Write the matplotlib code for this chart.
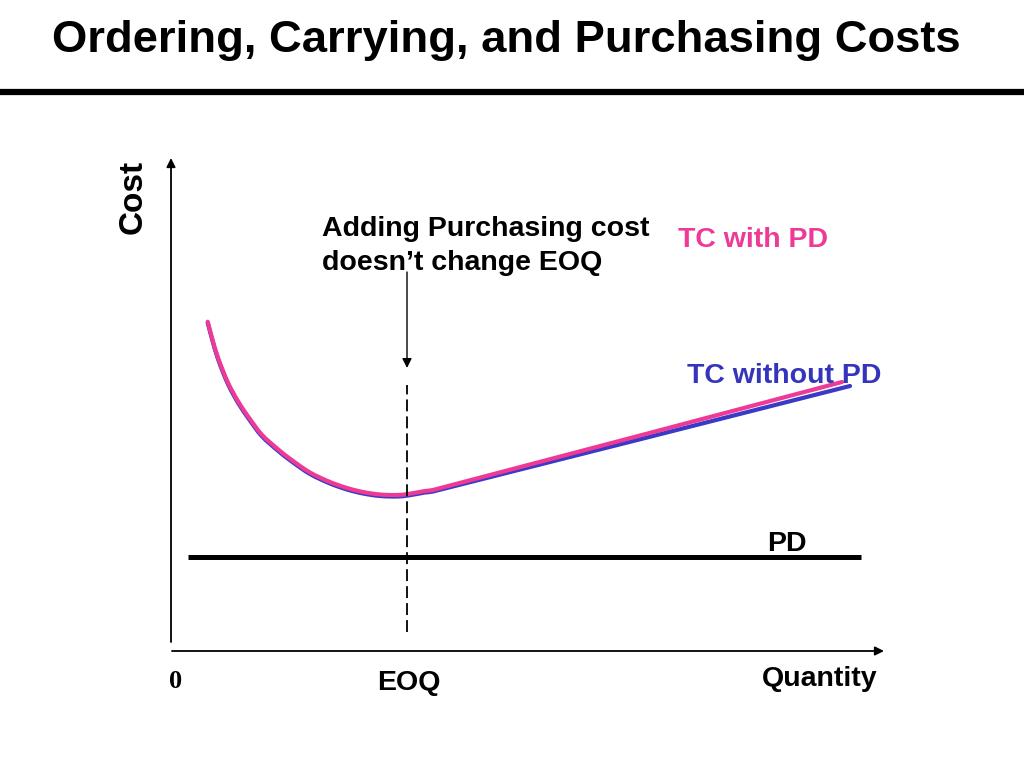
import matplotlib
matplotlib.use("Agg")
import numpy as np
import matplotlib.pyplot as plt
from matplotlib.lines import Line2D
from matplotlib.path import Path
from matplotlib.patches import PathPatch

# ---- data (arbitrary units) ----
quantity_pd = [36.7, 40.7, 47.3, 57.3, 67.3, 77.3, 90.7, 107.3, 120.7, 139, 159, 176, 192, 209, 226, 237, 254, 262, 671]
tc_with_pd = [329.3, 314.3, 292.5, 267.7, 249.3, 234.3, 216.5, 201.5, 191, 178.5, 169, 163, 159, 156.5, 156, 157, 160, 161, 269]

quantity_nopd = [36.7, 40.7, 47.3, 57.3, 67.3, 77.3, 90.7, 107.3, 120.7, 139, 159, 176, 192, 209, 226, 237, 254, 262, 679]
tc_without_pd = [328.3, 313.1, 291.1, 266.2, 247.8, 232.8, 215, 200, 189.5, 177, 167.5, 161.5, 157.5, 155, 154.5, 155.5, 158.5, 159.5, 265]

pd_quantity = [17, 690]
pd_cost = [94, 94]

eoq = 236
eoq_line_cost = [19, 266]

PINK = "#EE3A96"
BLUE = "#3A3AC6"
TEXT_BLUE = "#3434BC"

W, H = 1024, 768
fig = plt.figure(figsize=(W / 100, H / 100), dpi=100)
FONT = ["Liberation Sans", "DejaVu Sans"]


def fx(x):
    return x / W


def fy(y):
    return 1 - y / H


def smooth_path(xs, ys):
    """Smooth Bezier path passing through the given points."""
    p = np.column_stack([xs, ys]).astype(float)
    n = len(p)
    tang = np.zeros_like(p)
    for i in range(n):
        a = p[max(i - 1, 0)]
        b = p[min(i + 1, n - 1)]
        d = b - a
        tang[i] = d / np.hypot(*d)
    verts = [p[0]]
    codes = [Path.MOVETO]
    for i in range(n - 1):
        L = np.hypot(*(p[i + 1] - p[i]))
        verts += [p[i] + tang[i] * L / 3, p[i + 1] - tang[i + 1] * L / 3, p[i + 1]]
        codes += [Path.CURVE4] * 3
    return Path(verts, codes)


# title and rule
fig.text(fx(52), fy(52), "Ordering, Carrying, and Purchasing Costs", fontsize=32.7,
         fontweight="bold", family=FONT, ha="left", va="baseline")
fig.add_artist(Line2D([0, 1], [fy(92), fy(92)], color="black", lw=4.5,
                      transform=fig.transFigure))

# plotting area (origin at pixel 171, 651); 1 data unit = 1 pixel
ax = fig.add_axes([fx(171), fy(651), (884 - 171) / W, (651 - 158) / H])
ax.set_xlim(0, 713)
ax.set_ylim(0, 493)
ax.axis("off")

# axes with arrows
ax.annotate("", xy=(713, 0), xytext=(1, 0),
            arrowprops=dict(arrowstyle="-|>", lw=1.3, color="black",
                            mutation_scale=13, shrinkA=0, shrinkB=0),
            annotation_clip=False)
ax.annotate("", xy=(0, 493), xytext=(0, 9),
            arrowprops=dict(arrowstyle="-|>", lw=1.3, color="black",
                            mutation_scale=13, shrinkA=0, shrinkB=0),
            annotation_clip=False)

# curves
ax.add_patch(PathPatch(smooth_path(quantity_nopd, tc_without_pd), facecolor="none",
                       edgecolor=BLUE, lw=3.0, capstyle="round", joinstyle="round",
                       clip_on=False))
ax.add_patch(PathPatch(smooth_path(quantity_pd, tc_with_pd), facecolor="none",
                       edgecolor=PINK, lw=3.0, capstyle="round", joinstyle="round",
                       clip_on=False))

# PD line
ax.plot(pd_quantity, pd_cost, color="black", lw=3.6, solid_capstyle="butt")

# EOQ dashed line
ax.plot([eoq, eoq], eoq_line_cost, color="black", lw=1.3, ls=(0, (6.6, 2.8)))

# annotation arrow
ax.annotate("", xy=(eoq, 283), xytext=(eoq, 379),
            arrowprops=dict(arrowstyle="-|>", lw=1.0, color="black",
                            mutation_scale=14, shrinkA=0, shrinkB=0))

# texts
fs = 20.5
fig.text(fx(322), fy(236), "Adding Purchasing cost", fontsize=fs, fontweight="bold",
         family=FONT, ha="left", va="baseline")
fig.text(fx(322), fy(270), "doesn\u2019t change EOQ", fontsize=fs, fontweight="bold",
         family=FONT, ha="left", va="baseline")
fig.text(fx(678), fy(247), "TC with PD", fontsize=fs, fontweight="bold",
         family=FONT, color=PINK, ha="left", va="baseline")
fig.text(fx(687), fy(383), "TC without PD", fontsize=fs, fontweight="bold",
         family=FONT, color=TEXT_BLUE, ha="left", va="baseline")
fig.text(fx(767), fy(551), "PD", fontsize=fs, fontweight="bold",
         family=FONT, ha="left", va="baseline")
fig.text(fx(133), fy(197), "Cost", fontsize=24, fontweight="bold", family=FONT,
         rotation=90, ha="center", va="center")
fig.text(fx(169), fy(688), "0", fontsize=19, fontweight="bold",
         family=["Liberation Serif", "DejaVu Serif"], ha="left", va="baseline")
fig.text(fx(409), fy(690), "EOQ", fontsize=fs, fontweight="bold", family=FONT,
         ha="center", va="baseline")
fig.text(fx(762), fy(686), "Quantity", fontsize=fs, fontweight="bold", family=FONT,
         ha="left", va="baseline")

fig.savefig("out.png", dpi=100)
